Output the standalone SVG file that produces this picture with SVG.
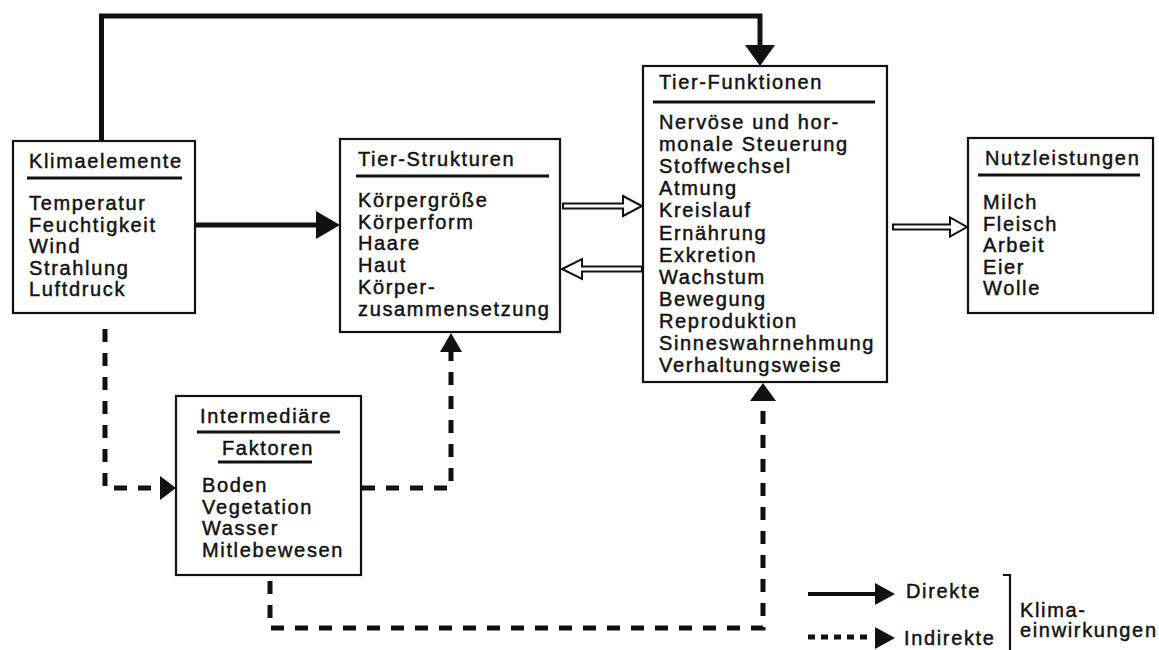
<svg xmlns="http://www.w3.org/2000/svg" width="1159" height="650" viewBox="0 0 1159 650">
<style>
text{font-family:"Liberation Sans",Arial,sans-serif;font-size:20px;letter-spacing:1.65px;fill:#111;stroke:#111;stroke-width:0.45}
.box{fill:#fff;stroke:#111;stroke-width:2.2}
.ul{stroke:#111;stroke-width:3}
.solid{fill:none;stroke:#111;stroke-width:5}
.dash{fill:none;stroke:#111;stroke-width:5;stroke-dasharray:13 11}
.head{fill:#111;stroke:none}
.hollow{fill:#fff;stroke:#111;stroke-width:2;stroke-linejoin:miter}
</style>
<rect width="1159" height="650" fill="#fff"/>

<g id="connectors">
  <!-- direct: Klimaelemente to Tier-Funktionen (top route) -->
  <polyline class="solid" points="101.5,141 101.5,16 760,16 760,46"/>
  <polygon class="head" points="745,45 775,45 760,66"/>
  <!-- direct: Klimaelemente to Tier-Strukturen -->
  <line class="solid" x1="195" y1="225" x2="318" y2="225"/>
  <polygon class="head" points="316,211 340,225 316,239"/>
  <!-- hollow arrows -->
  <polygon class="hollow" points="563,203.5 623,203.5 623,196 642,206 623,216 623,208.5 563,208.5"/>
  <polygon class="hollow" points="642,266.5 582,266.5 582,259 562,269 582,279 582,271.5 642,271.5"/>
  <polygon class="hollow" points="893,224.5 950,224.5 950,217.5 967,227 950,236.5 950,229.5 893,229.5"/>
  <!-- indirect: Klimaelemente to Intermediäre -->
  <polyline class="dash" points="105,329 105,488 160,488"/>
  <polygon class="head" points="160,476 176,488 160,500"/>
  <!-- indirect: Intermediäre to Tier-Strukturen -->
  <polyline class="dash" points="362,488 451,488 451,352"/>
  <polygon class="head" points="440,352 462,352 451,333"/>
  <!-- indirect: Intermediäre to Tier-Funktionen -->
  <polyline class="dash" points="270,581 270,628 763,628 763,401"/>
  <polygon class="head" points="750,401 776,401 763,383"/>
</g>

<g id="klimaelemente">
  <rect class="box" x="13" y="141" width="182" height="172"/>
  <text x="29" y="168">Klimaelemente</text>
  <line class="ul" x1="27" y1="178" x2="182" y2="178"/>
  <text><tspan x="29" y="210">Temperatur</tspan><tspan x="29" y="231.5">Feuchtigkeit</tspan><tspan x="29" y="253">Wind</tspan><tspan x="29" y="274.5">Strahlung</tspan><tspan x="29" y="296">Luftdruck</tspan></text>
</g>

<g id="tier-strukturen">
  <rect class="box" x="340" y="139" width="220" height="193"/>
  <text x="358" y="166">Tier-Strukturen</text>
  <line class="ul" x1="356" y1="176" x2="549" y2="176"/>
  <text><tspan x="358" y="207">Körpergröße</tspan><tspan x="358" y="228.7">Körperform</tspan><tspan x="358" y="250.4">Haare</tspan><tspan x="358" y="272.1">Haut</tspan><tspan x="358" y="293.8">Körper-</tspan><tspan x="358" y="315.5">zusammensetzung</tspan></text>
</g>

<g id="tier-funktionen">
  <rect class="box" x="643" y="66" width="244" height="316"/>
  <text x="659" y="89">Tier-Funktionen</text>
  <line class="ul" x1="653" y1="102" x2="875" y2="102"/>
  <text><tspan x="659" y="129">Nervöse und hor-</tspan><tspan x="659" y="151.1">monale Steuerung</tspan><tspan x="659" y="173.2">Stoffwechsel</tspan><tspan x="659" y="195.3">Atmung</tspan><tspan x="659" y="217.4">Kreislauf</tspan><tspan x="659" y="239.5">Ernährung</tspan><tspan x="659" y="261.6">Exkretion</tspan><tspan x="659" y="283.7">Wachstum</tspan><tspan x="659" y="305.8">Bewegung</tspan><tspan x="659" y="327.9">Reproduktion</tspan><tspan x="659" y="350">Sinneswahrnehmung</tspan><tspan x="659" y="372.1">Verhaltungsweise</tspan></text>
</g>

<g id="nutzleistungen">
  <rect class="box" x="968" y="138" width="185" height="175"/>
  <text x="985" y="165">Nutzleistungen</text>
  <line class="ul" x1="978" y1="175" x2="1140" y2="175"/>
  <text><tspan x="983" y="209">Milch</tspan><tspan x="983" y="230.5">Fleisch</tspan><tspan x="983" y="252">Arbeit</tspan><tspan x="983" y="273.5">Eier</tspan><tspan x="983" y="295">Wolle</tspan></text>
</g>

<g id="intermediaere-faktoren">
  <rect class="box" x="176" y="396" width="185" height="179"/>
  <text x="200" y="423">Intermediäre</text>
  <line class="ul" x1="197" y1="432" x2="340" y2="432"/>
  <text x="222" y="455">Faktoren</text>
  <line class="ul" x1="218" y1="462" x2="312" y2="462"/>
  <text><tspan x="202" y="492">Boden</tspan><tspan x="202" y="513.5">Vegetation</tspan><tspan x="202" y="535">Wasser</tspan><tspan x="202" y="557">Mitlebewesen</tspan></text>
</g>

<g id="legend">
  <line x1="808" y1="594" x2="877" y2="594" stroke="#111" stroke-width="4"/>
  <polygon class="head" points="875,583 895,594 875,605"/>
  <text x="906" y="598">Direkte</text>
  <line x1="808" y1="637" x2="872" y2="637" stroke="#111" stroke-width="5" stroke-dasharray="7 6"/>
  <polygon class="head" points="875,627 895,638 875,649"/>
  <text x="904" y="645">Indirekte</text>
  <polyline points="1003,575 1010,575 1010,650" fill="none" stroke="#111" stroke-width="2.2"/>
  <text><tspan x="1020" y="617">Klima-</tspan><tspan x="1020" y="637">einwirkungen</tspan></text>
</g>
</svg>
